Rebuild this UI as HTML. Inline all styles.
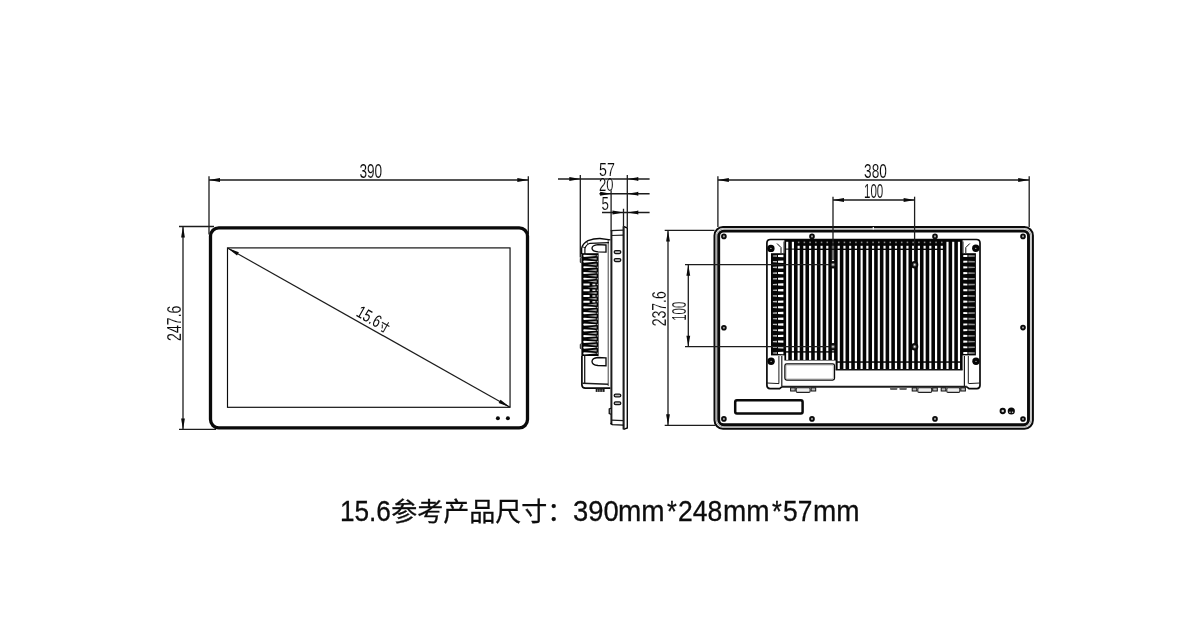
<!DOCTYPE html>
<html lang="zh-CN">
<head>
<meta charset="utf-8">
<title>15.6参考产品尺寸</title>
<style>
html,body{margin:0;padding:0;background:#fff;}
body{width:1200px;height:619px;overflow:hidden;position:relative;}
svg{position:absolute;left:0;top:0;display:block;will-change:transform;}
.d{font-family:"Liberation Sans","Noto Sans CJK SC",sans-serif;fill:#0a0a0a;stroke:#fff;stroke-width:0.12px;paint-order:fill stroke;}
.cap{position:absolute;left:0;top:0;width:1200px;height:619px;}
.cap span{position:absolute;transform-origin:0 0;white-space:nowrap;color:#0d0d0d;font-family:"Liberation Sans","Noto Sans CJK SC",sans-serif;font-size:26px;line-height:30px;-webkit-text-stroke:0.3px #0d0d0d;}
</style>
</head>
<body>
<svg width="1200" height="619" viewBox="0 0 1200 619">
<g id="front">
<line x1="209.00" y1="176.30" x2="209.00" y2="234.50" stroke="#1c1c1c" stroke-width="1.3" />
<line x1="528.30" y1="176.30" x2="528.30" y2="234.50" stroke="#1c1c1c" stroke-width="1.3" />
<line x1="209.00" y1="180.00" x2="528.30" y2="180.00" stroke="#1c1c1c" stroke-width="1.3" />
<polygon points="209.00,180.00 220.00,178.10 220.00,181.90" fill="#0a0a0a"/>
<polygon points="528.30,180.00 517.30,181.90 517.30,178.10" fill="#0a0a0a"/>
<text transform="translate(370.80,177.50) rotate(0) scale(0.7,1)" font-size="19.5" text-anchor="middle" class="d">390</text>
<line x1="179.00" y1="226.50" x2="214.00" y2="226.50" stroke="#1c1c1c" stroke-width="1.3" />
<line x1="179.00" y1="429.40" x2="216.00" y2="429.40" stroke="#1c1c1c" stroke-width="1.3" />
<line x1="183.00" y1="226.50" x2="183.00" y2="429.40" stroke="#1c1c1c" stroke-width="1.3" />
<polygon points="183.00,226.50 184.90,237.50 181.10,237.50" fill="#0a0a0a"/>
<polygon points="183.00,429.40 181.10,418.40 184.90,418.40" fill="#0a0a0a"/>
<text transform="translate(180.70,323.20) rotate(-90) scale(0.725,1)" font-size="19.5" text-anchor="middle" class="d">247.6</text>
<rect x="210.50" y="227.80" width="317.00" height="200.10" rx="8.3" fill="none" stroke="#0a0a0a" stroke-width="3.3"/>
<rect x="227.50" y="247.90" width="282.55" height="159.40" rx="0" fill="none" stroke="#0a0a0a" stroke-width="1.15"/>
<line x1="227.50" y1="247.90" x2="510.05" y2="407.30" stroke="#1c1c1c" stroke-width="1.2" />
<polygon points="227.50,247.90 238.89,252.14 237.02,255.45" fill="#0a0a0a"/>
<polygon points="510.05,407.30 498.66,403.06 500.53,399.75" fill="#0a0a0a"/>
<text transform="translate(355.3,315.6) rotate(29.43) scale(0.74,1)" font-size="17.5" class="d" style="stroke:none">15.6<tspan font-size="12.5" dx="1.2" style="stroke:#111;stroke-width:0.25px">寸</tspan></text>
<circle cx="497.90" cy="418.30" r="2.0" fill="#0a0a0a" stroke="#0a0a0a" stroke-width="0"/>
<circle cx="507.90" cy="418.30" r="2.0" fill="#0a0a0a" stroke="#0a0a0a" stroke-width="0"/>
</g>
<g id="side">
<line x1="580.30" y1="175.00" x2="580.30" y2="257.50" stroke="#1c1c1c" stroke-width="1.3" />
<line x1="627.30" y1="175.00" x2="627.30" y2="227.50" stroke="#1c1c1c" stroke-width="1.3" />
<line x1="558.00" y1="179.00" x2="649.60" y2="179.00" stroke="#1c1c1c" stroke-width="1.3" />
<polygon points="580.30,179.00 569.30,180.90 569.30,177.10" fill="#0a0a0a"/>
<polygon points="627.30,179.00 638.30,177.10 638.30,180.90" fill="#0a0a0a"/>
<text transform="translate(606.90,176.20) rotate(0) scale(0.8,1)" font-size="17.8" text-anchor="middle" class="d">57</text>
<line x1="611.10" y1="189.00" x2="611.10" y2="230.40" stroke="#1c1c1c" stroke-width="1.3" />
<line x1="599.40" y1="193.75" x2="649.60" y2="193.75" stroke="#1c1c1c" stroke-width="1.3" />
<polygon points="611.10,193.75 600.10,195.65 600.10,191.85" fill="#0a0a0a"/>
<polygon points="627.30,193.75 638.30,191.85 638.30,195.65" fill="#0a0a0a"/>
<text transform="translate(606.20,190.80) rotate(0) scale(0.74,1)" font-size="17.6" text-anchor="middle" class="d">20</text>
<line x1="623.50" y1="208.75" x2="623.50" y2="226.30" stroke="#1c1c1c" stroke-width="1.3" />
<line x1="602.00" y1="212.50" x2="649.60" y2="212.50" stroke="#1c1c1c" stroke-width="1.3" />
<polygon points="623.50,212.50 612.50,214.40 612.50,210.60" fill="#0a0a0a"/>
<polygon points="627.30,212.50 638.30,210.60 638.30,214.40" fill="#0a0a0a"/>
<text transform="translate(605.30,209.60) rotate(0) scale(0.74,1)" font-size="18" text-anchor="middle" class="d">5</text>
<path d="M623.5,226.3 L627.3,228 L627.3,428 L623.5,429.4" fill="none" stroke="#0a0a0a" stroke-width="1.4" />
<line x1="623.60" y1="226.30" x2="623.60" y2="429.40" stroke="#1c1c1c" stroke-width="2.1" />
<line x1="611.40" y1="230.40" x2="611.40" y2="424.50" stroke="#1c1c1c" stroke-width="2.0" />
<line x1="610.60" y1="230.60" x2="623.50" y2="230.20" stroke="#1c1c1c" stroke-width="1.3" />
<line x1="611.40" y1="235.50" x2="623.50" y2="235.10" stroke="#1c1c1c" stroke-width="1.2" />
<line x1="611.40" y1="420.20" x2="623.50" y2="420.60" stroke="#1c1c1c" stroke-width="1.2" />
<path d="M610.6,423 L612.2,424.7 L623.5,425.2" fill="none" stroke="#0a0a0a" stroke-width="1.3" />
<line x1="608.20" y1="240.00" x2="608.20" y2="386.00" stroke="#444" stroke-width="1.0" />
<rect x="614.20" y="250.70" width="6.60" height="2.80" rx="1.4" fill="#bbb" stroke="#111" stroke-width="1.25"/>
<rect x="614.20" y="258.70" width="6.60" height="2.80" rx="1.4" fill="#bbb" stroke="#111" stroke-width="1.25"/>
<rect x="614.20" y="394.00" width="6.60" height="2.80" rx="1.4" fill="#bbb" stroke="#111" stroke-width="1.25"/>
<rect x="614.20" y="401.90" width="6.60" height="2.80" rx="1.4" fill="#bbb" stroke="#111" stroke-width="1.25"/>
<path d="M611,408.2 L609.2,409 L609.2,413.6 L611,414.2" fill="#888" stroke="#0a0a0a" stroke-width="1.2" />
<path d="M581.6,254 L581.6,248.5 Q582.5,243.5 588,240.6 Q594,238.4 600,238.5 L610.4,239.9" fill="none" stroke="#0a0a0a" stroke-width="1.4" />
<path d="M584.9,254 L584.9,248.6 Q586,244.6 590,243.3 L609,242.6" fill="none" stroke="#0a0a0a" stroke-width="1.2" />
<line x1="582.00" y1="246.60" x2="585.30" y2="247.80" stroke="#1c1c1c" stroke-width="0.9" />
<line x1="586.40" y1="241.60" x2="588.30" y2="244.10" stroke="#1c1c1c" stroke-width="0.9" />
<path d="M606,245.00 L598,244.70 Q592,245.30 592,248.30 Q592,251.30 598,251.90 L606,252.10 Z" fill="#fff" stroke="#0a0a0a" stroke-width="1.35" />
<path d="M606,357.80 L598,357.50 Q592,358.10 592,361.50 Q592,364.90 598,365.50 L606,365.70 Z" fill="#fff" stroke="#0a0a0a" stroke-width="1.35" />
<rect x="581.4" y="253.2" width="17.2" height="102.8" fill="#050505"/>
<path d="M583.8,254.70 Q582.6,255.80 583.8,256.90 L595.8,256.10 L595.8,255.50 Z" fill="#fff"/>
<circle cx="597.3" cy="255.80" r="0.75" fill="#999"/>
<path d="M596.6,257.67 L587.5,258.67 L596.6,259.67 Z" fill="#a0a0a0"/>
<path d="M583.8,260.44 Q582.6,261.54 583.8,262.64 L595.8,261.84 L595.8,261.24 Z" fill="#fff"/>
<circle cx="597.3" cy="261.54" r="0.75" fill="#999"/>
<path d="M596.6,263.40 L587.5,264.40 L596.6,265.40 Z" fill="#a0a0a0"/>
<path d="M583.8,266.17 Q582.6,267.27 583.8,268.37 L595.8,267.57 L595.8,266.97 Z" fill="#fff"/>
<circle cx="597.3" cy="267.27" r="0.75" fill="#999"/>
<path d="M596.6,269.14 L587.5,270.14 L596.6,271.14 Z" fill="#a0a0a0"/>
<path d="M583.8,271.91 Q582.6,273.01 583.8,274.11 L595.8,273.31 L595.8,272.71 Z" fill="#fff"/>
<circle cx="597.3" cy="273.01" r="0.75" fill="#999"/>
<path d="M596.6,274.87 L587.5,275.87 L596.6,276.87 Z" fill="#a0a0a0"/>
<path d="M583.8,277.64 Q582.6,278.74 583.8,279.84 L595.8,279.04 L595.8,278.44 Z" fill="#fff"/>
<circle cx="597.3" cy="278.74" r="0.75" fill="#999"/>
<path d="M596.6,280.61 L587.5,281.61 L596.6,282.61 Z" fill="#a0a0a0"/>
<path d="M583.4,283.43 L589.6,283.53 L589.6,285.43 L583.4,285.53 Z" fill="#fff"/>
<path d="M592.4,283.68 L595.4,283.78 L595.4,285.18 L592.4,285.28 Z" fill="#e8e8e8"/>
<circle cx="597.3" cy="284.48" r="0.75" fill="#999"/>
<path d="M596.6,286.34 L587.5,287.34 L596.6,288.34 Z" fill="#a0a0a0"/>
<path d="M583.4,289.16 L589.6,289.26 L589.6,291.16 L583.4,291.26 Z" fill="#fff"/>
<path d="M592.4,289.41 L595.4,289.51 L595.4,290.91 L592.4,291.01 Z" fill="#e8e8e8"/>
<circle cx="597.3" cy="290.21" r="0.75" fill="#999"/>
<path d="M596.6,292.08 L587.5,293.08 L596.6,294.08 Z" fill="#a0a0a0"/>
<path d="M583.4,294.90 L589.6,295.00 L589.6,296.90 L583.4,297.00 Z" fill="#fff"/>
<path d="M592.4,295.15 L595.4,295.25 L595.4,296.65 L592.4,296.75 Z" fill="#e8e8e8"/>
<circle cx="597.3" cy="295.95" r="0.75" fill="#999"/>
<path d="M596.6,297.81 L587.5,298.81 L596.6,299.81 Z" fill="#a0a0a0"/>
<path d="M583.4,300.63 L589.6,300.73 L589.6,302.63 L583.4,302.73 Z" fill="#fff"/>
<path d="M592.4,300.88 L595.4,300.98 L595.4,302.38 L592.4,302.48 Z" fill="#e8e8e8"/>
<circle cx="597.3" cy="301.68" r="0.75" fill="#999"/>
<path d="M596.6,303.55 L587.5,304.55 L596.6,305.55 Z" fill="#a0a0a0"/>
<path d="M583.8,306.32 Q582.6,307.42 583.8,308.52 L595.8,307.72 L595.8,307.12 Z" fill="#fff"/>
<circle cx="597.3" cy="307.42" r="0.75" fill="#999"/>
<path d="M596.6,309.29 L587.5,310.29 L596.6,311.29 Z" fill="#a0a0a0"/>
<path d="M583.8,312.05 Q582.6,313.15 583.8,314.25 L595.8,313.45 L595.8,312.85 Z" fill="#fff"/>
<circle cx="597.3" cy="313.15" r="0.75" fill="#999"/>
<path d="M596.6,315.02 L587.5,316.02 L596.6,317.02 Z" fill="#a0a0a0"/>
<path d="M583.8,317.79 Q582.6,318.89 583.8,319.99 L595.8,319.19 L595.8,318.59 Z" fill="#fff"/>
<circle cx="597.3" cy="318.89" r="0.75" fill="#999"/>
<path d="M596.6,320.76 L587.5,321.76 L596.6,322.76 Z" fill="#a0a0a0"/>
<path d="M583.8,323.52 Q582.6,324.62 583.8,325.72 L595.8,324.92 L595.8,324.32 Z" fill="#fff"/>
<circle cx="597.3" cy="324.62" r="0.75" fill="#999"/>
<path d="M596.6,326.49 L587.5,327.49 L596.6,328.49 Z" fill="#a0a0a0"/>
<path d="M583.8,329.26 Q582.6,330.36 583.8,331.46 L595.8,330.66 L595.8,330.06 Z" fill="#fff"/>
<circle cx="597.3" cy="330.36" r="0.75" fill="#999"/>
<path d="M596.6,332.23 L587.5,333.23 L596.6,334.23 Z" fill="#a0a0a0"/>
<path d="M583.8,334.99 Q582.6,336.09 583.8,337.19 L595.8,336.39 L595.8,335.79 Z" fill="#fff"/>
<circle cx="597.3" cy="336.09" r="0.75" fill="#999"/>
<path d="M596.6,337.96 L587.5,338.96 L596.6,339.96 Z" fill="#a0a0a0"/>
<path d="M583.8,340.73 Q582.6,341.83 583.8,342.93 L595.8,342.13 L595.8,341.53 Z" fill="#fff"/>
<circle cx="597.3" cy="341.83" r="0.75" fill="#999"/>
<path d="M596.6,343.70 L587.5,344.70 L596.6,345.70 Z" fill="#a0a0a0"/>
<path d="M583.8,346.46 Q582.6,347.56 583.8,348.66 L595.8,347.86 L595.8,347.26 Z" fill="#fff"/>
<circle cx="597.3" cy="347.56" r="0.75" fill="#999"/>
<path d="M596.6,349.43 L587.5,350.43 L596.6,351.43 Z" fill="#a0a0a0"/>
<path d="M583.8,352.20 Q582.6,353.30 583.8,354.40 L595.8,353.60 L595.8,353.00 Z" fill="#fff"/>
<circle cx="597.3" cy="353.30" r="0.75" fill="#999"/>
<path d="M581.4,257.5 L580.3,258.3 L580.3,262.3 L581.4,263" fill="none" stroke="#0a0a0a" stroke-width="1.0" />
<path d="M581.4,343.5 L580.3,344.3 L580.3,348.3 L581.4,349" fill="none" stroke="#0a0a0a" stroke-width="1.0" />
<path d="M581.9,356 L581.9,385 Q582.2,388.1 585.3,388.1 L610.4,388.1" fill="none" stroke="#0a0a0a" stroke-width="1.7" />
<line x1="584.70" y1="356.00" x2="584.70" y2="383.50" stroke="#1c1c1c" stroke-width="1.3" />
<line x1="582.50" y1="383.20" x2="608.20" y2="384.20" stroke="#1c1c1c" stroke-width="1.4" />
<rect x="595.7" y="388.3" width="8.9" height="3.6" fill="#1a1a1a"/>
<line x1="597.70" y1="389.40" x2="597.70" y2="391.90" stroke="#ccc" stroke-width="0.7" />
<line x1="599.90" y1="389.40" x2="599.90" y2="391.90" stroke="#ccc" stroke-width="0.7" />
<line x1="602.30" y1="389.40" x2="602.30" y2="391.90" stroke="#ccc" stroke-width="0.7" />
</g>
<g id="rear">
<rect x="714.50" y="227.00" width="318.40" height="201.80" rx="8.5" fill="none" stroke="#0a0a0a" stroke-width="2.0"/>
<rect x="716.40" y="228.90" width="314.60" height="198.00" rx="7" fill="none" stroke="#888" stroke-width="0.8"/>
<rect x="718.70" y="231.15" width="309.80" height="193.55" rx="5" fill="none" stroke="#0a0a0a" stroke-width="2.9"/>
<line x1="873.30" y1="227.00" x2="873.30" y2="229.60" stroke="#fff" stroke-width="1.2" />
<path d="M781.8,386.8 L779.6,388.6 L770,388.6 Q766.9,388.6 766.9,385.3 L766.9,243 Q766.9,239.5 770.5,239.5 L976.5,239.5 Q980,239.5 980,243 L980,385.3 Q980,388.6 977,388.6 L969,388.6 L966.8,386.8" fill="none" stroke="#0a0a0a" stroke-width="1.7" />
<path d="M784.4,239.5 H962.6 V370 H835.6 V360.4 H784.4 Z" fill="#050505"/>
<rect x="786.12" y="241.8" width="2.15" height="6.80" fill="#fff"/>
<rect x="786.12" y="249.6" width="2.15" height="101.60" fill="#fff"/>
<rect x="786.12" y="352.6" width="2.15" height="7.30" fill="#fff"/>
<rect x="791.85" y="241.8" width="2.15" height="6.80" fill="#fff"/>
<rect x="791.85" y="249.6" width="2.15" height="101.60" fill="#fff"/>
<rect x="791.85" y="352.6" width="2.15" height="7.30" fill="#fff"/>
<rect x="797.88" y="241.6" width="1.55" height="1.6" fill="#8a8a8a"/>
<rect x="797.58" y="245.8" width="2.15" height="2.80" fill="#fff"/>
<rect x="797.58" y="250" width="2.15" height="101.20" fill="#fff"/>
<rect x="797.58" y="352.6" width="2.15" height="7.30" fill="#fff"/>
<rect x="803.60" y="241.6" width="1.55" height="1.6" fill="#8a8a8a"/>
<rect x="803.30" y="245.8" width="2.15" height="2.80" fill="#fff"/>
<rect x="803.30" y="250" width="2.15" height="101.20" fill="#fff"/>
<rect x="803.30" y="352.6" width="2.15" height="7.30" fill="#fff"/>
<rect x="809.32" y="241.6" width="1.55" height="1.6" fill="#8a8a8a"/>
<rect x="809.02" y="245.8" width="2.15" height="2.80" fill="#fff"/>
<rect x="809.02" y="250" width="2.15" height="101.20" fill="#fff"/>
<rect x="809.02" y="352.6" width="2.15" height="7.30" fill="#fff"/>
<rect x="815.05" y="241.6" width="1.55" height="1.6" fill="#8a8a8a"/>
<rect x="814.75" y="245.8" width="2.15" height="2.80" fill="#fff"/>
<rect x="814.75" y="250" width="2.15" height="101.20" fill="#fff"/>
<rect x="814.75" y="352.6" width="2.15" height="7.30" fill="#fff"/>
<rect x="820.77" y="241.6" width="1.55" height="1.6" fill="#8a8a8a"/>
<rect x="820.48" y="245.8" width="2.15" height="2.80" fill="#fff"/>
<rect x="820.48" y="250" width="2.15" height="101.20" fill="#fff"/>
<rect x="820.48" y="352.6" width="2.15" height="7.30" fill="#fff"/>
<rect x="826.50" y="241.6" width="1.55" height="1.6" fill="#8a8a8a"/>
<rect x="826.20" y="245.8" width="2.15" height="2.80" fill="#fff"/>
<rect x="826.20" y="250" width="2.15" height="101.20" fill="#fff"/>
<rect x="826.20" y="352.6" width="2.15" height="7.30" fill="#fff"/>
<rect x="832.22" y="241.6" width="1.55" height="1.6" fill="#8a8a8a"/>
<rect x="831.92" y="245.8" width="2.15" height="2.80" fill="#fff"/>
<rect x="831.92" y="250" width="2.15" height="101.20" fill="#fff"/>
<rect x="831.92" y="352.6" width="2.15" height="7.30" fill="#fff"/>
<rect x="837.95" y="241.6" width="1.55" height="1.6" fill="#8a8a8a"/>
<rect x="837.65" y="245.8" width="2.15" height="2.80" fill="#fff"/>
<rect x="837.65" y="250" width="2.15" height="111.30" fill="#fff"/>
<rect x="837.65" y="362.8" width="2.15" height="6.20" fill="#fff"/>
<rect x="843.67" y="241.6" width="1.55" height="1.6" fill="#8a8a8a"/>
<rect x="843.38" y="245.8" width="2.15" height="2.80" fill="#fff"/>
<rect x="843.38" y="250" width="2.15" height="111.30" fill="#fff"/>
<rect x="843.38" y="362.8" width="2.15" height="6.20" fill="#fff"/>
<rect x="849.40" y="241.6" width="1.55" height="1.6" fill="#8a8a8a"/>
<rect x="849.10" y="245.8" width="2.15" height="2.80" fill="#fff"/>
<rect x="849.10" y="250" width="2.15" height="111.30" fill="#fff"/>
<rect x="849.10" y="362.8" width="2.15" height="6.20" fill="#fff"/>
<rect x="855.12" y="241.6" width="1.55" height="1.6" fill="#8a8a8a"/>
<rect x="854.83" y="245.8" width="2.15" height="2.80" fill="#fff"/>
<rect x="854.83" y="250" width="2.15" height="111.30" fill="#fff"/>
<rect x="854.83" y="362.8" width="2.15" height="6.20" fill="#fff"/>
<rect x="860.85" y="241.6" width="1.55" height="1.6" fill="#8a8a8a"/>
<rect x="860.55" y="245.8" width="2.15" height="2.80" fill="#fff"/>
<rect x="860.55" y="250" width="2.15" height="111.30" fill="#fff"/>
<rect x="860.55" y="362.8" width="2.15" height="6.20" fill="#fff"/>
<rect x="866.57" y="241.6" width="1.55" height="1.6" fill="#8a8a8a"/>
<rect x="866.27" y="245.8" width="2.15" height="2.80" fill="#fff"/>
<rect x="866.27" y="250" width="2.15" height="111.30" fill="#fff"/>
<rect x="866.27" y="362.8" width="2.15" height="6.20" fill="#fff"/>
<rect x="872.30" y="241.6" width="1.55" height="1.6" fill="#8a8a8a"/>
<rect x="872.00" y="245.8" width="2.15" height="2.80" fill="#fff"/>
<rect x="872.00" y="250" width="2.15" height="111.30" fill="#fff"/>
<rect x="872.00" y="362.8" width="2.15" height="6.20" fill="#fff"/>
<rect x="878.02" y="241.6" width="1.55" height="1.6" fill="#8a8a8a"/>
<rect x="877.73" y="245.8" width="2.15" height="2.80" fill="#fff"/>
<rect x="877.73" y="250" width="2.15" height="111.30" fill="#fff"/>
<rect x="877.73" y="362.8" width="2.15" height="6.20" fill="#fff"/>
<rect x="883.75" y="241.6" width="1.55" height="1.6" fill="#8a8a8a"/>
<rect x="883.45" y="245.8" width="2.15" height="2.80" fill="#fff"/>
<rect x="883.45" y="250" width="2.15" height="111.30" fill="#fff"/>
<rect x="883.45" y="362.8" width="2.15" height="6.20" fill="#fff"/>
<rect x="889.47" y="241.6" width="1.55" height="1.6" fill="#8a8a8a"/>
<rect x="889.17" y="245.8" width="2.15" height="2.80" fill="#fff"/>
<rect x="889.17" y="250" width="2.15" height="111.30" fill="#fff"/>
<rect x="889.17" y="362.8" width="2.15" height="6.20" fill="#fff"/>
<rect x="895.20" y="241.6" width="1.55" height="1.6" fill="#8a8a8a"/>
<rect x="894.90" y="245.8" width="2.15" height="2.80" fill="#fff"/>
<rect x="894.90" y="250" width="2.15" height="111.30" fill="#fff"/>
<rect x="894.90" y="362.8" width="2.15" height="6.20" fill="#fff"/>
<rect x="900.92" y="241.6" width="1.55" height="1.6" fill="#8a8a8a"/>
<rect x="900.62" y="245.8" width="2.15" height="2.80" fill="#fff"/>
<rect x="900.62" y="250" width="2.15" height="111.30" fill="#fff"/>
<rect x="900.62" y="362.8" width="2.15" height="6.20" fill="#fff"/>
<rect x="906.65" y="241.6" width="1.55" height="1.6" fill="#8a8a8a"/>
<rect x="906.35" y="245.8" width="2.15" height="2.80" fill="#fff"/>
<rect x="906.35" y="250" width="2.15" height="111.30" fill="#fff"/>
<rect x="906.35" y="362.8" width="2.15" height="6.20" fill="#fff"/>
<rect x="912.38" y="241.6" width="1.55" height="1.6" fill="#8a8a8a"/>
<rect x="912.08" y="245.8" width="2.15" height="2.80" fill="#fff"/>
<rect x="912.08" y="250" width="2.15" height="111.30" fill="#fff"/>
<rect x="912.08" y="362.8" width="2.15" height="6.20" fill="#fff"/>
<rect x="918.10" y="241.6" width="1.55" height="1.6" fill="#8a8a8a"/>
<rect x="917.80" y="245.8" width="2.15" height="2.80" fill="#fff"/>
<rect x="917.80" y="250" width="2.15" height="111.30" fill="#fff"/>
<rect x="917.80" y="362.8" width="2.15" height="6.20" fill="#fff"/>
<rect x="923.82" y="241.6" width="1.55" height="1.6" fill="#8a8a8a"/>
<rect x="923.52" y="245.8" width="2.15" height="2.80" fill="#fff"/>
<rect x="923.52" y="250" width="2.15" height="111.30" fill="#fff"/>
<rect x="923.52" y="362.8" width="2.15" height="6.20" fill="#fff"/>
<rect x="929.55" y="241.6" width="1.55" height="1.6" fill="#8a8a8a"/>
<rect x="929.25" y="245.8" width="2.15" height="2.80" fill="#fff"/>
<rect x="929.25" y="250" width="2.15" height="111.30" fill="#fff"/>
<rect x="929.25" y="362.8" width="2.15" height="6.20" fill="#fff"/>
<rect x="935.27" y="241.6" width="1.55" height="1.6" fill="#8a8a8a"/>
<rect x="934.98" y="245.8" width="2.15" height="2.80" fill="#fff"/>
<rect x="934.98" y="250" width="2.15" height="111.30" fill="#fff"/>
<rect x="934.98" y="362.8" width="2.15" height="6.20" fill="#fff"/>
<rect x="941.00" y="241.6" width="1.55" height="1.6" fill="#8a8a8a"/>
<rect x="940.70" y="245.8" width="2.15" height="2.80" fill="#fff"/>
<rect x="940.70" y="250" width="2.15" height="111.30" fill="#fff"/>
<rect x="940.70" y="362.8" width="2.15" height="6.20" fill="#fff"/>
<rect x="946.42" y="241.8" width="2.15" height="119.50" fill="#fff"/>
<rect x="946.42" y="362.8" width="2.15" height="6.20" fill="#fff"/>
<rect x="952.15" y="241.8" width="2.15" height="119.50" fill="#fff"/>
<rect x="952.15" y="362.8" width="2.15" height="6.20" fill="#fff"/>
<rect x="957.88" y="241.8" width="2.15" height="119.50" fill="#fff"/>
<rect x="957.88" y="362.8" width="2.15" height="6.20" fill="#fff"/>
<rect x="771" y="253.2" width="14" height="102.2" fill="#050505"/>
<rect x="961" y="253.2" width="14.9" height="102.2" fill="#050505"/>
<path d="M778,255.00 L783.4,254.80 L783.4,257.20 L778,257.00 Z" fill="#fff"/>
<path d="M772.9,255.40 L777,255.20 L777,256.80 L772.9,256.60 Z" fill="#bbb"/>
<path d="M963.3,254.95 L967.4,255.10 L967.4,256.90 L963.3,257.05 Z" fill="#fff"/>
<path d="M968.4,255.10 L974.8,255.30 L974.8,256.70 L968.4,256.90 Z" fill="#8a8a8a"/>
<path d="M778,260.71 L783.4,260.51 L783.4,262.91 L778,262.71 Z" fill="#fff"/>
<path d="M772.9,261.11 L777,260.91 L777,262.51 L772.9,262.31 Z" fill="#bbb"/>
<path d="M963.3,260.66 L967.4,260.81 L967.4,262.61 L963.3,262.76 Z" fill="#fff"/>
<path d="M968.4,260.81 L974.8,261.01 L974.8,262.41 L968.4,262.61 Z" fill="#8a8a8a"/>
<path d="M778,266.41 L783.4,266.21 L783.4,268.61 L778,268.41 Z" fill="#fff"/>
<path d="M772.9,266.81 L777,266.61 L777,268.21 L772.9,268.01 Z" fill="#bbb"/>
<path d="M963.3,266.36 L967.4,266.51 L967.4,268.31 L963.3,268.46 Z" fill="#fff"/>
<path d="M968.4,266.51 L974.8,266.71 L974.8,268.11 L968.4,268.31 Z" fill="#8a8a8a"/>
<path d="M778,272.12 L783.4,271.92 L783.4,274.32 L778,274.12 Z" fill="#fff"/>
<path d="M772.9,272.52 L777,272.32 L777,273.92 L772.9,273.72 Z" fill="#bbb"/>
<path d="M963.3,272.07 L967.4,272.22 L967.4,274.02 L963.3,274.17 Z" fill="#fff"/>
<path d="M968.4,272.22 L974.8,272.42 L974.8,273.82 L968.4,274.02 Z" fill="#8a8a8a"/>
<path d="M778,277.82 L783.4,277.62 L783.4,280.02 L778,279.82 Z" fill="#fff"/>
<path d="M772.9,278.22 L777,278.02 L777,279.62 L772.9,279.42 Z" fill="#bbb"/>
<path d="M963.3,277.77 L967.4,277.92 L967.4,279.72 L963.3,279.87 Z" fill="#fff"/>
<path d="M968.4,277.92 L974.8,278.12 L974.8,279.52 L968.4,279.72 Z" fill="#8a8a8a"/>
<path d="M778,283.53 L783.4,283.33 L783.4,285.73 L778,285.53 Z" fill="#fff"/>
<path d="M772.9,283.93 L777,283.73 L777,285.33 L772.9,285.13 Z" fill="#bbb"/>
<path d="M963.3,283.48 L967.4,283.63 L967.4,285.43 L963.3,285.58 Z" fill="#fff"/>
<path d="M968.4,283.63 L974.8,283.83 L974.8,285.23 L968.4,285.43 Z" fill="#8a8a8a"/>
<path d="M778,289.24 L783.4,289.04 L783.4,291.44 L778,291.24 Z" fill="#fff"/>
<path d="M772.9,289.64 L777,289.44 L777,291.04 L772.9,290.84 Z" fill="#bbb"/>
<path d="M963.3,289.19 L967.4,289.34 L967.4,291.14 L963.3,291.29 Z" fill="#fff"/>
<path d="M968.4,289.34 L974.8,289.54 L974.8,290.94 L968.4,291.14 Z" fill="#8a8a8a"/>
<path d="M778,294.94 L783.4,294.74 L783.4,297.14 L778,296.94 Z" fill="#fff"/>
<path d="M772.9,295.34 L777,295.14 L777,296.74 L772.9,296.54 Z" fill="#bbb"/>
<path d="M963.3,294.89 L967.4,295.04 L967.4,296.84 L963.3,296.99 Z" fill="#fff"/>
<path d="M968.4,295.04 L974.8,295.24 L974.8,296.64 L968.4,296.84 Z" fill="#8a8a8a"/>
<path d="M778,300.65 L783.4,300.45 L783.4,302.85 L778,302.65 Z" fill="#fff"/>
<path d="M772.9,301.05 L777,300.85 L777,302.45 L772.9,302.25 Z" fill="#bbb"/>
<path d="M963.3,300.60 L967.4,300.75 L967.4,302.55 L963.3,302.70 Z" fill="#fff"/>
<path d="M968.4,300.75 L974.8,300.95 L974.8,302.35 L968.4,302.55 Z" fill="#8a8a8a"/>
<path d="M778,306.35 L783.4,306.15 L783.4,308.55 L778,308.35 Z" fill="#fff"/>
<path d="M772.9,306.75 L777,306.55 L777,308.15 L772.9,307.95 Z" fill="#bbb"/>
<path d="M963.3,306.30 L967.4,306.45 L967.4,308.25 L963.3,308.40 Z" fill="#fff"/>
<path d="M968.4,306.45 L974.8,306.65 L974.8,308.05 L968.4,308.25 Z" fill="#8a8a8a"/>
<path d="M778,312.06 L783.4,311.86 L783.4,314.26 L778,314.06 Z" fill="#fff"/>
<path d="M772.9,312.46 L777,312.26 L777,313.86 L772.9,313.66 Z" fill="#bbb"/>
<path d="M963.3,312.01 L967.4,312.16 L967.4,313.96 L963.3,314.11 Z" fill="#fff"/>
<path d="M968.4,312.16 L974.8,312.36 L974.8,313.76 L968.4,313.96 Z" fill="#8a8a8a"/>
<path d="M778,317.76 L783.4,317.56 L783.4,319.96 L778,319.76 Z" fill="#fff"/>
<path d="M772.9,318.16 L777,317.96 L777,319.56 L772.9,319.36 Z" fill="#bbb"/>
<path d="M963.3,317.71 L967.4,317.86 L967.4,319.66 L963.3,319.81 Z" fill="#fff"/>
<path d="M968.4,317.86 L974.8,318.06 L974.8,319.46 L968.4,319.66 Z" fill="#8a8a8a"/>
<path d="M778,323.47 L783.4,323.27 L783.4,325.67 L778,325.47 Z" fill="#fff"/>
<path d="M772.9,323.87 L777,323.67 L777,325.27 L772.9,325.07 Z" fill="#bbb"/>
<path d="M963.3,323.42 L967.4,323.57 L967.4,325.37 L963.3,325.52 Z" fill="#fff"/>
<path d="M968.4,323.57 L974.8,323.77 L974.8,325.17 L968.4,325.37 Z" fill="#8a8a8a"/>
<path d="M778,329.18 L783.4,328.98 L783.4,331.38 L778,331.18 Z" fill="#fff"/>
<path d="M772.9,329.58 L777,329.38 L777,330.98 L772.9,330.78 Z" fill="#bbb"/>
<path d="M963.3,329.13 L967.4,329.28 L967.4,331.08 L963.3,331.23 Z" fill="#fff"/>
<path d="M968.4,329.28 L974.8,329.48 L974.8,330.88 L968.4,331.08 Z" fill="#8a8a8a"/>
<path d="M778,334.88 L783.4,334.68 L783.4,337.08 L778,336.88 Z" fill="#fff"/>
<path d="M772.9,335.28 L777,335.08 L777,336.68 L772.9,336.48 Z" fill="#bbb"/>
<path d="M963.3,334.83 L967.4,334.98 L967.4,336.78 L963.3,336.93 Z" fill="#fff"/>
<path d="M968.4,334.98 L974.8,335.18 L974.8,336.58 L968.4,336.78 Z" fill="#8a8a8a"/>
<path d="M778,340.59 L783.4,340.39 L783.4,342.79 L778,342.59 Z" fill="#fff"/>
<path d="M772.9,340.99 L777,340.79 L777,342.39 L772.9,342.19 Z" fill="#bbb"/>
<path d="M963.3,340.54 L967.4,340.69 L967.4,342.49 L963.3,342.64 Z" fill="#fff"/>
<path d="M968.4,340.69 L974.8,340.89 L974.8,342.29 L968.4,342.49 Z" fill="#8a8a8a"/>
<path d="M778,346.29 L783.4,346.09 L783.4,348.49 L778,348.29 Z" fill="#fff"/>
<path d="M772.9,346.69 L777,346.49 L777,348.09 L772.9,347.89 Z" fill="#bbb"/>
<path d="M963.3,346.24 L967.4,346.39 L967.4,348.19 L963.3,348.34 Z" fill="#fff"/>
<path d="M968.4,346.39 L974.8,346.59 L974.8,347.99 L968.4,348.19 Z" fill="#8a8a8a"/>
<path d="M778,352.00 L783.4,351.80 L783.4,354.20 L778,354.00 Z" fill="#fff"/>
<path d="M772.9,352.40 L777,352.20 L777,353.80 L772.9,353.60 Z" fill="#bbb"/>
<path d="M963.3,351.95 L967.4,352.10 L967.4,353.90 L963.3,354.05 Z" fill="#fff"/>
<path d="M968.4,352.10 L974.8,352.30 L974.8,353.70 L968.4,353.90 Z" fill="#8a8a8a"/>
<circle cx="770.90" cy="248.40" r="3.7" fill="#050505" stroke="#0a0a0a" stroke-width="0"/>
<circle cx="770.90" cy="248.40" r="0.6" fill="#ddd" stroke="#0a0a0a" stroke-width="0"/>
<circle cx="975.80" cy="248.30" r="3.7" fill="#050505" stroke="#0a0a0a" stroke-width="0"/>
<circle cx="975.80" cy="248.30" r="0.6" fill="#ddd" stroke="#0a0a0a" stroke-width="0"/>
<circle cx="771.10" cy="361.30" r="3.7" fill="#050505" stroke="#0a0a0a" stroke-width="0"/>
<circle cx="771.10" cy="361.30" r="0.6" fill="#ddd" stroke="#0a0a0a" stroke-width="0"/>
<circle cx="976.00" cy="361.30" r="3.7" fill="#050505" stroke="#0a0a0a" stroke-width="0"/>
<circle cx="976.00" cy="361.30" r="0.6" fill="#ddd" stroke="#0a0a0a" stroke-width="0"/>
<path d="M777,243.5 L781,247.5 L781,253" fill="none" stroke="#0a0a0a" stroke-width="1.0" />
<path d="M969.8,243.5 L965.8,247.5 L965.8,253" fill="none" stroke="#0a0a0a" stroke-width="1.0" />
<line x1="784.00" y1="241.50" x2="784.00" y2="253.00" stroke="#1c1c1c" stroke-width="1.0" />
<line x1="963.00" y1="241.50" x2="963.00" y2="253.00" stroke="#1c1c1c" stroke-width="1.0" />
<line x1="778.90" y1="356.00" x2="778.90" y2="383.60" stroke="#1c1c1c" stroke-width="1.0" />
<line x1="781.80" y1="356.00" x2="781.80" y2="386.80" stroke="#1c1c1c" stroke-width="1.2" />
<line x1="964.40" y1="356.00" x2="964.40" y2="386.80" stroke="#1c1c1c" stroke-width="1.2" />
<line x1="968.30" y1="356.00" x2="968.30" y2="383.60" stroke="#1c1c1c" stroke-width="1.0" />
<line x1="767.00" y1="383.00" x2="779.00" y2="383.60" stroke="#1c1c1c" stroke-width="1.0" />
<line x1="968.60" y1="383.60" x2="980.00" y2="383.00" stroke="#1c1c1c" stroke-width="1.0" />
<line x1="781.80" y1="386.80" x2="966.90" y2="386.80" stroke="#1c1c1c" stroke-width="2.0" />
<line x1="835.60" y1="370.00" x2="962.60" y2="370.00" stroke="#1c1c1c" stroke-width="1.2" />
<rect x="784.90" y="363.90" width="49.60" height="16.20" rx="1.8" fill="#fff" stroke="#0a0a0a" stroke-width="1.3"/>
<rect x="786.10" y="365.10" width="47.20" height="13.80" rx="1.2" fill="none" stroke="#999" stroke-width="0.6"/>
<rect x="790.60" y="387.8" width="4.6" height="3.2" fill="#bbb" stroke="#111" stroke-width="1"/>
<rect x="811.10" y="387.8" width="4.6" height="3.2" fill="#bbb" stroke="#111" stroke-width="1"/>
<rect x="796.20" y="387.8" width="13.90" height="4.6" rx="1.2" fill="#eee" stroke="#222" stroke-width="1.1"/>
<rect x="912.20" y="387.8" width="4.6" height="3.2" fill="#bbb" stroke="#111" stroke-width="1"/>
<rect x="932.70" y="387.8" width="4.6" height="3.2" fill="#bbb" stroke="#111" stroke-width="1"/>
<rect x="917.80" y="387.8" width="13.90" height="4.6" rx="1.2" fill="#eee" stroke="#222" stroke-width="1.1"/>
<rect x="941.20" y="387.8" width="4.6" height="3.2" fill="#bbb" stroke="#111" stroke-width="1"/>
<rect x="960.80" y="387.8" width="4.6" height="3.2" fill="#bbb" stroke="#111" stroke-width="1"/>
<rect x="946.80" y="387.8" width="13.00" height="4.6" rx="1.2" fill="#eee" stroke="#222" stroke-width="1.1"/>
<rect x="890" y="387.6" width="7.4" height="2.4" rx="1" fill="#666"/>
<rect x="899.4" y="387.6" width="7.4" height="2.4" rx="1" fill="#666"/>
<circle cx="723.90" cy="236.40" r="1.95" fill="#9a9a9a" stroke="#0a0a0a" stroke-width="1.75"/>
<circle cx="812.00" cy="236.40" r="1.95" fill="#9a9a9a" stroke="#0a0a0a" stroke-width="1.75"/>
<circle cx="935.00" cy="236.40" r="1.95" fill="#9a9a9a" stroke="#0a0a0a" stroke-width="1.75"/>
<circle cx="1023.00" cy="236.40" r="1.95" fill="#9a9a9a" stroke="#0a0a0a" stroke-width="1.75"/>
<circle cx="723.90" cy="327.70" r="1.95" fill="#9a9a9a" stroke="#0a0a0a" stroke-width="1.75"/>
<circle cx="1023.00" cy="327.60" r="1.95" fill="#9a9a9a" stroke="#0a0a0a" stroke-width="1.75"/>
<circle cx="723.90" cy="418.90" r="1.95" fill="#9a9a9a" stroke="#0a0a0a" stroke-width="1.75"/>
<circle cx="812.00" cy="418.90" r="1.95" fill="#9a9a9a" stroke="#0a0a0a" stroke-width="1.75"/>
<circle cx="935.00" cy="418.90" r="1.95" fill="#9a9a9a" stroke="#0a0a0a" stroke-width="1.75"/>
<circle cx="1023.00" cy="419.00" r="1.95" fill="#9a9a9a" stroke="#0a0a0a" stroke-width="1.75"/>
<circle cx="1002.75" cy="411.00" r="2.2" fill="#ccc" stroke="#0a0a0a" stroke-width="1.9"/>
<circle cx="1011.30" cy="411.00" r="3.6" fill="#0a0a0a" stroke="#0a0a0a" stroke-width="0"/>
<rect x="1009.3" y="411.6" width="1.3" height="1.3" fill="#ccc"/><rect x="1011.9" y="411.6" width="1.3" height="1.3" fill="#ccc"/>
<rect x="735.20" y="400.25" width="67.40" height="13.25" rx="1.7" fill="none" stroke="#0a0a0a" stroke-width="2.5"/>
<line x1="717.90" y1="176.30" x2="717.90" y2="227.00" stroke="#1c1c1c" stroke-width="1.3" />
<line x1="1029.20" y1="176.30" x2="1029.20" y2="227.00" stroke="#1c1c1c" stroke-width="1.3" />
<line x1="717.90" y1="180.00" x2="1029.20" y2="180.00" stroke="#1c1c1c" stroke-width="1.3" />
<polygon points="717.90,180.00 728.90,178.10 728.90,181.90" fill="#0a0a0a"/>
<polygon points="1029.20,180.00 1018.20,181.90 1018.20,178.10" fill="#0a0a0a"/>
<text transform="translate(875.50,177.80) rotate(0) scale(0.7,1)" font-size="19.5" text-anchor="middle" class="d">380</text>
<line x1="833.00" y1="196.70" x2="833.00" y2="260.00" stroke="#1c1c1c" stroke-width="1.3" />
<line x1="914.60" y1="196.70" x2="914.60" y2="260.00" stroke="#1c1c1c" stroke-width="1.3" />
<line x1="833.00" y1="200.00" x2="914.60" y2="200.00" stroke="#1c1c1c" stroke-width="1.3" />
<polygon points="833.00,200.00 844.00,198.10 844.00,201.90" fill="#0a0a0a"/>
<polygon points="914.60,200.00 903.60,201.90 903.60,198.10" fill="#0a0a0a"/>
<text transform="translate(873.60,197.80) rotate(0) scale(0.595,1)" font-size="19.5" text-anchor="middle" class="d">100</text>
<line x1="664.70" y1="230.40" x2="714.50" y2="230.40" stroke="#1c1c1c" stroke-width="1.3" />
<line x1="664.70" y1="425.30" x2="715.50" y2="425.30" stroke="#1c1c1c" stroke-width="1.3" />
<line x1="668.00" y1="230.40" x2="668.00" y2="425.30" stroke="#1c1c1c" stroke-width="1.3" />
<polygon points="668.00,230.40 669.90,241.40 666.10,241.40" fill="#0a0a0a"/>
<polygon points="668.00,425.30 666.10,414.30 669.90,414.30" fill="#0a0a0a"/>
<text transform="translate(665.80,308.75) rotate(-90) scale(0.72,1)" font-size="19.5" text-anchor="middle" class="d">237.6</text>
<line x1="685.00" y1="264.70" x2="830.00" y2="264.70" stroke="#1c1c1c" stroke-width="1.3" />
<line x1="685.00" y1="346.70" x2="830.00" y2="346.70" stroke="#1c1c1c" stroke-width="1.3" />
<line x1="688.30" y1="264.70" x2="688.30" y2="346.70" stroke="#1c1c1c" stroke-width="1.3" />
<polygon points="688.30,264.70 690.20,275.70 686.40,275.70" fill="#0a0a0a"/>
<polygon points="688.30,346.70 686.40,335.70 690.20,335.70" fill="#0a0a0a"/>
<text transform="translate(685.80,311.25) rotate(-90) scale(0.585,1)" font-size="19.5" text-anchor="middle" class="d">100</text>
<circle cx="833.00" cy="264.70" r="3.7" fill="#0a0a0a" stroke="#0a0a0a" stroke-width="0"/>
<circle cx="833.00" cy="264.70" r="1.9" fill="#555" stroke="#0a0a0a" stroke-width="0"/>
<circle cx="833.00" cy="264.70" r="0.85" fill="#e8e8e8" stroke="#0a0a0a" stroke-width="0"/>
<circle cx="914.60" cy="264.70" r="3.7" fill="#0a0a0a" stroke="#0a0a0a" stroke-width="0"/>
<circle cx="914.60" cy="264.70" r="1.9" fill="#555" stroke="#0a0a0a" stroke-width="0"/>
<circle cx="914.60" cy="264.70" r="0.85" fill="#e8e8e8" stroke="#0a0a0a" stroke-width="0"/>
<circle cx="833.00" cy="346.70" r="3.7" fill="#0a0a0a" stroke="#0a0a0a" stroke-width="0"/>
<circle cx="833.00" cy="346.70" r="1.9" fill="#555" stroke="#0a0a0a" stroke-width="0"/>
<circle cx="833.00" cy="346.70" r="0.85" fill="#e8e8e8" stroke="#0a0a0a" stroke-width="0"/>
<circle cx="914.60" cy="346.70" r="3.7" fill="#0a0a0a" stroke="#0a0a0a" stroke-width="0"/>
<circle cx="914.60" cy="346.70" r="1.9" fill="#555" stroke="#0a0a0a" stroke-width="0"/>
<circle cx="914.60" cy="346.70" r="0.85" fill="#e8e8e8" stroke="#0a0a0a" stroke-width="0"/>
</g>
</svg>
<div class="cap"><span style="left:339.55px;top:496.2px;font-size:28.7px;transform:scaleX(0.912);">15.6</span><span style="left:391.36px;top:497.0px;font-size:26px;">参考产品尺寸：</span><span style="left:572.76px;top:496.2px;font-size:28.7px;transform:scaleX(0.954);">390</span><span style="left:618.3px;top:496.2px;font-size:28.7px;transform:scaleX(0.975);">mm</span><span style="left:666.52px;top:496.2px;font-size:28.7px;transform:scaleX(0.879);">*</span><span style="left:677.69px;top:496.2px;font-size:28.7px;transform:scaleX(0.924);">248</span><span style="left:722.8px;top:496.2px;font-size:28.7px;transform:scaleX(0.975);">mm</span><span style="left:771.52px;top:496.2px;font-size:28.7px;transform:scaleX(0.879);">*</span><span style="left:782.71px;top:496.2px;font-size:28.7px;transform:scaleX(0.917);">57</span><span style="left:813.3px;top:496.2px;font-size:28.7px;transform:scaleX(0.975);">mm</span></div>

</body>
</html>
